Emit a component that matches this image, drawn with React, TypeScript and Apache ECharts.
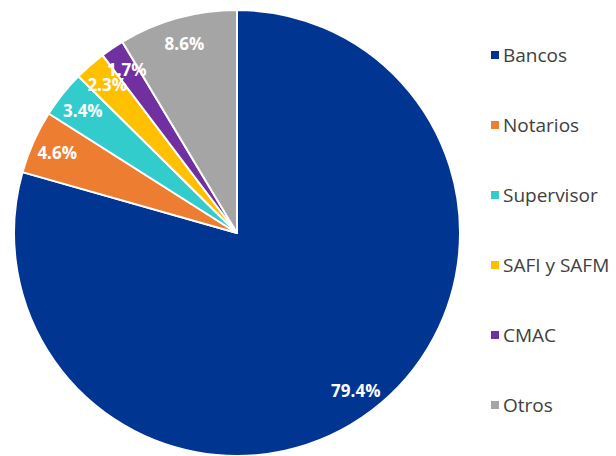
import React, { useEffect, useRef } from "react";
import * as echarts from "echarts";

const categories = ["Bancos", "Notarios", "Supervisor", "SAFI y SAFM", "CMAC", "Otros"];
const values = [79.4, 4.6, 3.4, 2.3, 1.7, 8.6];
const colors = ["#003591", "#ED7D31", "#33CCCC", "#FFC000", "#7030A0", "#A5A5A5"];

export default function App() {
  const ref = useRef<HTMLDivElement>(null);
  useEffect(() => {
    if (!ref.current) return;
    const chart = echarts.init(ref.current, null, { renderer: "svg" });
    const data = categories.map((name, i) => ({
      name,
      value: values[i],
      itemStyle: { color: colors[i] },
    }));
    chart.setOption({
      animation: false,
      legend: {
        orient: "vertical",
        left: 484,
        top: 39,
        icon: "rect",
        itemWidth: 10,
        itemHeight: 10,
        itemGap: 48,
        data: categories,
        textStyle: {
          fontFamily: "Open Sans",
          fontSize: 19,
          color: "#404040",
          lineHeight: 22,
          padding: [0, 0, 0, -2],
        },
      },
      series: [
        {
          type: "pie",
          center: [237, 233],
          radius: [0, 223],
          startAngle: 90,
          clockwise: true,
          data,
          label: { show: false },
          labelLine: { show: false },
          itemStyle: { borderColor: "#ffffff", borderWidth: 2 },
          emphasis: { disabled: true },
        },
        {
          type: "pie",
          center: [237, 233],
          radius: [165, 223],
          startAngle: 90,
          clockwise: true,
          silent: true,
          avoidLabelOverlap: false,
          minShowLabelAngle: 0,
          data: categories.map((name, i) => ({
            name,
            value: values[i],
            itemStyle: { color: "rgba(0,0,0,0)" },
          })),
          legendHoverLink: false,
          label: {
            show: true,
            position: "inside",
            formatter: (p: any) => p.value.toFixed(1) + "%",
            color: "#ffffff",
            fontFamily: "Open Sans",
            fontWeight: "bold",
            fontSize: 17,
          },
          labelLayout: { hideOverlap: false },
          labelLine: { show: false },
          emphasis: { disabled: true },
        },
      ],
    });
    return () => chart.dispose();
  }, []);
  return (
    <div
      ref={ref}
      style={{ position: "fixed", left: 0, top: 0, width: 616, height: 456, background: "#ffffff" }}
    />
  );
}
